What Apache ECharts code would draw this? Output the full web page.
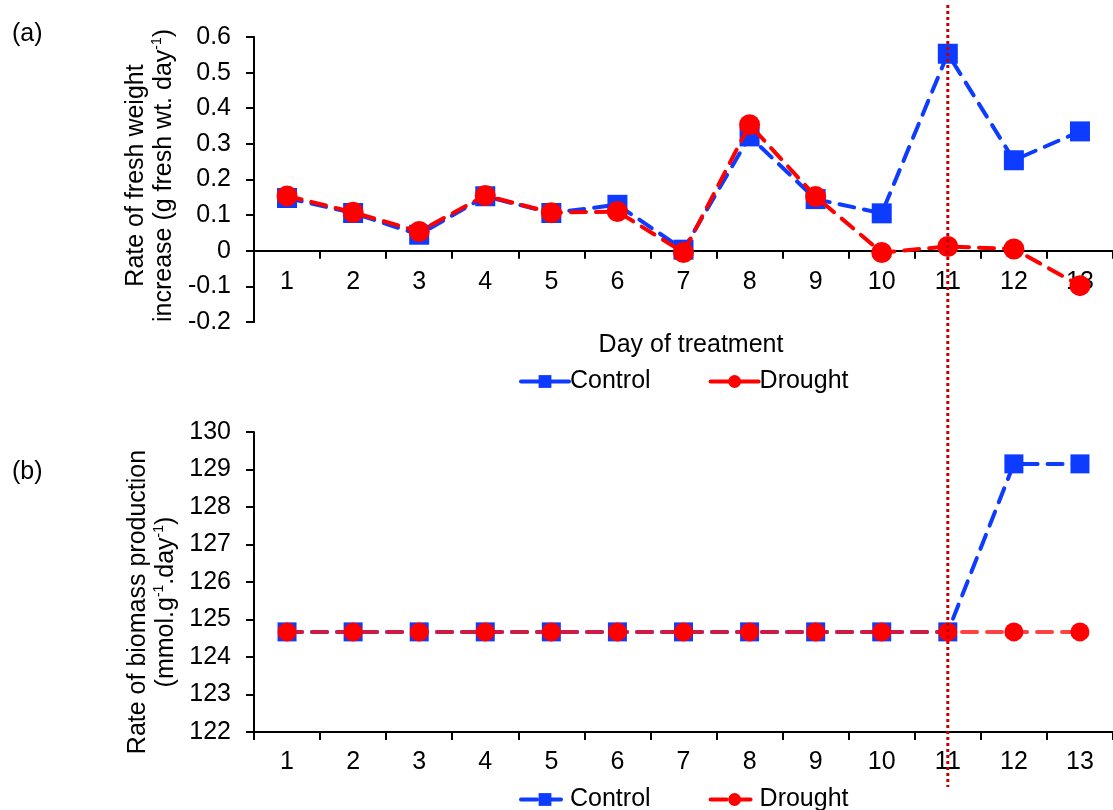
<!DOCTYPE html>
<html>
<head>
<meta charset="utf-8">
<script src="https://cdn.jsdelivr.net/npm/echarts@6/dist/echarts.min.js"></script>
<style>
html, body { margin: 0; padding: 0; background: #fff; }
#main { width: 1113px; height: 810px; }
</style>
</head>
<body>
<div id="main"></div>
<script>
var days = ['1', '2', '3', '4', '5', '6', '7', '8', '9', '10', '11', '12', '13'];
// (a) rate of fresh weight increase
var freshControl = [0.148, 0.106, 0.045, 0.153, 0.106, 0.129, 0.003, 0.321, 0.145, 0.105, 0.553, 0.254, 0.335];
var freshDrought = [0.154, 0.108, 0.054, 0.155, 0.107, 0.110, -0.005, 0.354, 0.152, -0.005, 0.012, 0.005, -0.098];
// (b) rate of biomass production
var bioControl = [124.67, 124.67, 124.67, 124.67, 124.67, 124.67, 124.67, 124.67, 124.67, 124.67, 124.67, 129.15, 129.15];
var bioDrought = [124.67, 124.67, 124.67, 124.67, 124.67, 124.67, 124.67, 124.67, 124.67, 124.67, 124.67, 124.67, 124.67];
var dividerDay = '11';

var blue = '#0d3bff', red = '#ff0000';
var font = 'Liberation Sans, Arial, sans-serif';
var fs = 25;

var chart = echarts.init(document.getElementById('main'));

var xAxisBase = function(grid){
	return {
		type: 'category',
		gridIndex: grid,
		data: days,
		boundaryGap: true,
		axisLine: {lineStyle: {color: '#000', width: 2}},
		axisTick: {show: true, inside: false, length: 8, lineStyle: {color: '#000', width: 2}},
		axisLabel: {color: '#000', fontSize: fs, fontFamily: font, margin: 18},
		splitLine: {show: false}
	};
};
var yAxisBase = function(grid){
	return {
		type: 'value',
		gridIndex: grid,
		axisLine: {show: true, lineStyle: {color: '#000', width: 2}},
		axisTick: {show: true, inside: false, length: 8, lineStyle: {color: '#000', width: 2}},
		axisLabel: {color: '#000', fontSize: fs, fontFamily: font, margin: 23},
		splitLine: {show: false},
		nameLocation: 'middle',
		nameGap: 68,
		nameTextStyle: {
			color: '#000', fontFamily: font,
			rich: {
				a: {fontSize: fs, fontFamily: font, color: '#000', lineHeight: 28},
				s: {fontSize: 14, fontFamily: font, color: '#000', verticalAlign: 'top', lineHeight: 28}
			}
		}
	};
};

var xa = xAxisBase(0);
// labels sit just under the zero line, not under the grid
xa.axisLabel.margin = -52;
var xb = xAxisBase(1);

var ya = yAxisBase(0);
ya.min = -0.2; ya.max = 0.6; ya.interval = 0.1;
ya.name = '{a|Rate of fresh weight}\n{a|increase (g fresh wt. day}{s|-1}{a|)}';
ya.nameTextStyle.padding = [0, 0, 0, 8];
var yb = yAxisBase(1);
yb.min = 122; yb.max = 130; yb.interval = 1;
yb.name = '{a|Rate of biomass production}\n{a|(mmol.g}{s|-1}{a|.day}{s|-1}{a|)}';
yb.nameTextStyle.padding = [0, 40, 0, 0];

var lineSeries = function(name, data, color, symbol, size, grid, lineColor){
	return {
		name: name,
		type: 'line',
		xAxisIndex: grid,
		yAxisIndex: grid,
		data: data,
		symbol: symbol,
		symbolSize: size,
		showAllSymbol: true,
		itemStyle: {color: color},
		lineStyle: {color: lineColor || color, width: 4, type: [15, 10], cap: 'round'},
		emphasis: {disabled: true},
		z: symbol == 'circle' ? 3 : 2
	};
};

var legendBase = function(top, lineType){
	return {
		top: top,
		left: 514,
		itemWidth: 48,
		itemHeight: 16,
		itemGap: 58,
		data: ['Control', 'Drought'],
		textStyle: {color: '#000', fontSize: fs, fontFamily: font, padding: [0, 0, 0, -4]},
		lineStyle: {type: lineType, width: 4},
		selectedMode: false
	};
};

var labelStyle = {fontSize: fs, fontWeight: 'normal', color: '#000', fontFamily: font};

var option = {
	animation: false,
	backgroundColor: '#fff',
	textStyle: {fontFamily: font},
	grid: [
		{left: 254, top: 37, width: 864, height: 285},
		{left: 254, top: 432, width: 864, height: 300}
	],
	xAxis: [xa, xb],
	yAxis: [ya, yb],
	legend: [legendBase(364, 'solid'), legendBase(782, 'dashed')],
	title: [
		{text: '(a)', left: 7, top: 17, textStyle: labelStyle},
		{text: '(b)', left: 7, top: 455, textStyle: labelStyle},
		{text: 'Day of treatment', left: 686, top: 328, textAlign: 'center', textStyle: labelStyle}
	],
	series: [
		lineSeries('Control', freshControl, blue, 'rect', 20, 0),
		lineSeries('Drought', freshDrought, red, 'circle', 21, 0),
		lineSeries('Control', bioControl, blue, 'rect', 19, 1),
		lineSeries('Drought', bioDrought, red, 'circle', 19, 1, 'rgba(255,20,20,0.8)')
	]
};
chart.setOption(option);

// vertical dotted marker at day 11, spanning both panels
var px = chart.convertToPixel({xAxisIndex: 0}, dividerDay);
chart.setOption({
	graphic: [{
		type: 'line',
		z: 10,
		shape: {x1: px, y1: 5, x2: px, y2: 787},
		style: {stroke: '#c00000', lineWidth: 3, lineDash: [3, 3]}
	}]
});
</script>
</body>
</html>
